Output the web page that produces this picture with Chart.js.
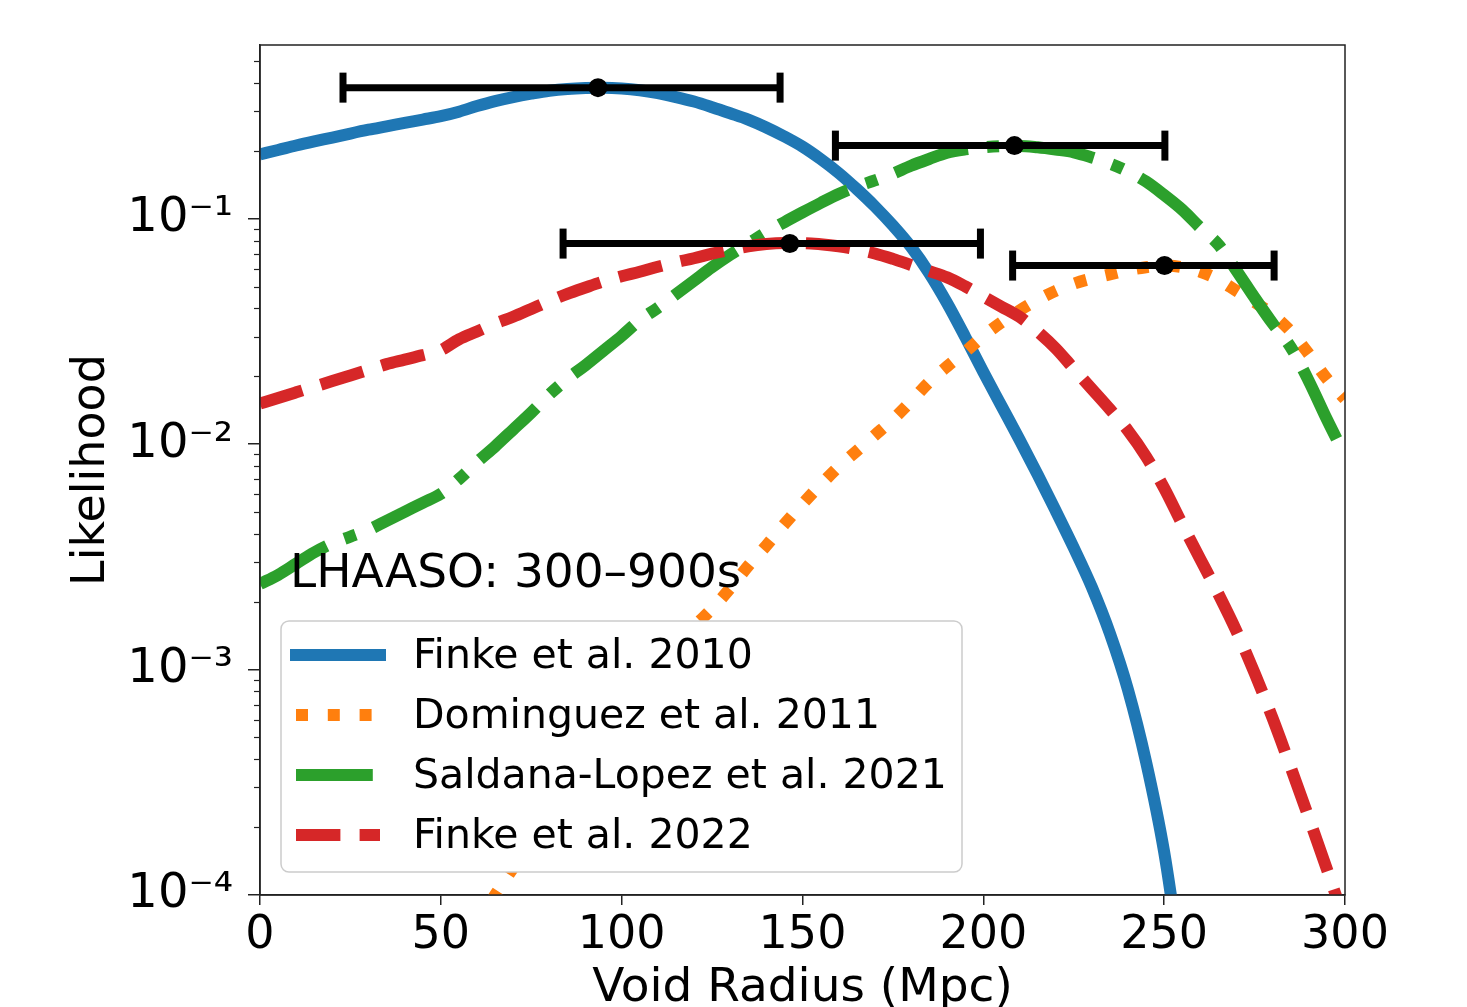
<!DOCTYPE html>
<html><head><meta charset="utf-8">
<script src="https://cdn.jsdelivr.net/npm/chart.js@4.4.1/dist/chart.umd.min.js"></script>
<style>html,body{margin:0;padding:0;background:#fff}canvas{display:block}</style>
</head><body>
<canvas id="c" width="1467" height="1007"></canvas>
<script>
// ---- data ----
const radius = [0,5,10,15,20,25,30,35,40,45,50,55,60,65,70,75,80,85,90,95,100,105,110,115,120,125,130,135,140,145,150,155,160,165,170,175,180,185,190,195,200,205,210,215,220,225,230,235,240,245,250,255,260,265,270,275,280,285,290,295,300];
const finke2010 = [0.193,0.2018,0.2113,0.2203,0.2291,0.2388,0.2483,0.2570,0.2661,0.2754,0.2851,0.2985,0.3162,0.3327,0.3467,0.3589,0.3698,0.3767,0.3802,0.3811,0.3784,0.3715,0.3606,0.3467,0.3311,0.3126,0.2938,0.2754,0.2541,0.2317,0.2089,0.1841,0.1596,0.1355,0.1135,0.0933,0.0750,0.0575,0.0422,0.0299,0.0209,0.01479,0.01047,0.00733,0.00507,0.00347,0.00232,0.001445,0.000813,0.000389,0.000155,0.0000447,null,null,null,null,null,null,null,null,null];
const dominguez2011 = [null,null,null,null,null,null,null,null,null,null,null,0.0000537,0.0000741,0.000100,0.0001318,0.0001738,0.0002291,0.0002985,0.000389,0.000501,0.000646,0.000813,0.001023,0.001259,0.001549,0.001862,0.002291,0.002884,0.003548,0.004416,0.005433,0.006607,0.007943,0.009333,0.01096,0.01288,0.01549,0.01884,0.02213,0.02570,0.03020,0.03467,0.03917,0.04365,0.04786,0.05152,0.05433,0.05662,0.05916,0.06095,0.06209,0.06095,0.05821,0.05370,0.04786,0.04266,0.03758,0.03162,0.02512,0.01950,0.01585];
const saldana2021 = [0.002399,0.002630,0.002951,0.003311,0.003631,0.003890,0.004169,0.004571,0.005012,0.005495,0.006026,0.006998,0.008318,0.009772,0.01161,0.01380,0.01660,0.01950,0.02239,0.02600,0.03020,0.03548,0.04027,0.04624,0.05309,0.06095,0.06918,0.07762,0.08710,0.09661,0.1067,0.1175,0.1288,0.1390,0.1479,0.1585,0.1718,0.1841,0.1963,0.2032,0.2075,0.2099,0.2104,0.2075,0.2028,0.1972,0.1871,0.1758,0.1622,0.1462,0.1274,0.1096,0.09120,0.07674,0.05888,0.04467,0.03428,0.02692,0.01905,0.01288,0.008913];
const finke2022 = [0.01514,0.01603,0.01698,0.01799,0.01905,0.02018,0.02138,0.02265,0.02371,0.02483,0.02612,0.02917,0.03162,0.03428,0.03673,0.03981,0.04315,0.04645,0.04955,0.05272,0.05559,0.05821,0.06124,0.06412,0.06683,0.06998,0.07278,0.07551,0.07727,0.07798,0.07798,0.07709,0.07551,0.07311,0.07015,0.06637,0.06237,0.05861,0.05495,0.05012,0.04519,0.04074,0.03673,0.03162,0.02661,0.02163,0.01758,0.01429,0.01148,0.008810,0.006383,0.004416,0.003090,0.002163,0.001479,0.000966,0.000607,0.000368,0.000220,0.000130,0.0000759];
const seriesLabels = ['Finke et al. 2010','Dominguez et al. 2011','Saldana-Lopez et al. 2021','Finke et al. 2022'];
const pointX = [93.45, 208.6, 146.5, 250.1];
const pointY = [0.3817, 0.2111, 0.0776, 0.0620];
const errLow = [22.95, 159.1, 83.8, 208.1];
const errHigh = [143.8, 250.2, 199.2, 280.4];
const xTicks = [0,50,100,150,200,250,300];
const yTickValues = [1e-4,1e-3,1e-2,1e-1];
const yTickLabels = ['10⁻⁴','10⁻³','10⁻²','10⁻¹'];
const annotationText = 'LHAASO: 300–900s';

// ---- styles ----
const FONT = "'DejaVu Sans'";
const LW = 12;
const styles = [
  {color:'#1f77b4', dash:[]},
  {color:'#ff7f0e', dash:[LW*1, LW*1.65]},
  {color:'#2ca02c', dash:[LW*6.4, LW*1.6, LW*1, LW*1.6]},
  {color:'#d62728', dash:[LW*3.7, LW*1.6]}
];
const series = [finke2010, dominguez2011, saldana2021, finke2022];

function toXY(arr){
  const out = [];
  radius.forEach((r,i)=>{ if (arr[i] !== null) out.push({x:r, y:arr[i]}); });
  return out;
}

const datasets = series.map((arr,i)=>({
  type:'line', label:seriesLabels[i], data:toXY(arr),
  borderColor:styles[i].color, borderWidth:LW, borderDash:styles[i].dash,
  borderCapStyle:'butt', borderJoinStyle:'round',
  pointRadius:0, fill:false, cubicInterpolationMode:'monotone',
  clip:0, order:4-i
}));

pointX.forEach((px,i)=>{
  datasets.push({
    type:'line', label:'_err'+i,
    data:[{x:errLow[i], y:pointY[i]},{x:errHigh[i], y:pointY[i]}],
    borderColor:'#000', borderWidth:7, borderCapStyle:'butt',
    pointStyle:'line', pointRotation:90, pointRadius:15,
    pointBorderWidth:7, pointBorderColor:'#000', pointBackgroundColor:'#000',
    tension:0, fill:false, clip:false, order:0
  });
});
datasets.push({
  type:'scatter', label:'_pts',
  data:pointX.map((x,i)=>({x, y:pointY[i]})),
  pointRadius:9.5, pointBackgroundColor:'#000', pointBorderColor:'#000', pointBorderWidth:0,
  showLine:false, clip:false, order:-1
});

const decorPlugin = {
  id:'decor',
  beforeDraw(chart){
    const c = chart.ctx;
    c.save(); c.fillStyle='#fff'; c.fillRect(0,0,chart.width,chart.height); c.restore();
  },
  afterDraw(chart){
    const c = chart.ctx, ca = chart.chartArea, ys = chart.scales.y;
    c.save();
    // frame
    c.strokeStyle='#222'; c.lineWidth=1.5; c.setLineDash([]);
    c.strokeRect(ca.left, ca.top, ca.right-ca.left, ca.bottom-ca.top);
    // minor ticks
    c.lineWidth=1.2;
    for (let d=-4; d<=-1; d++){
      for (let m=2; m<=9; m++){
        const v = m*Math.pow(10,d);
        if (v > ys.max) continue;
        const y = Math.round(ys.getPixelForValue(v))+0.5;
        c.beginPath(); c.moveTo(ca.left-6, y); c.lineTo(ca.left, y); c.stroke();
      }
    }
    // annotation
    c.fillStyle='#000'; c.font='47px '+FONT; c.textBaseline='alphabetic'; c.textAlign='left';
    c.fillText(annotationText, ca.left+30, 587);
    // legend box
    const bx = ca.left+21, by = 621, bw = 681, bh = 251, r = 8;
    c.beginPath();
    c.moveTo(bx+r,by); c.lineTo(bx+bw-r,by); c.arcTo(bx+bw,by,bx+bw,by+r,r);
    c.lineTo(bx+bw,by+bh-r); c.arcTo(bx+bw,by+bh,bx+bw-r,by+bh,r);
    c.lineTo(bx+r,by+bh); c.arcTo(bx,by+bh,bx,by+bh-r,r);
    c.lineTo(bx,by+r); c.arcTo(bx,by,bx+r,by,r); c.closePath();
    c.fillStyle='#ffffff'; c.fill();
    c.strokeStyle='#cccccc'; c.lineWidth=1.5; c.stroke();
    // legend items
    for (let i=0;i<4;i++){
      const ds = chart.data.datasets[i];
      const yRow = 655 + i*60;
      c.save();
      c.strokeStyle = ds.borderColor; c.lineWidth = ds.borderWidth;
      c.setLineDash(ds.borderDash);
      c.lineCap = ds.borderDash.length ? 'butt' : 'square';
      c.beginPath(); c.moveTo(ca.left+36, yRow); c.lineTo(ca.left+120, yRow); c.stroke();
      c.restore();
      c.fillStyle='#000'; c.font='41px '+FONT; c.textBaseline='alphabetic';
      c.fillText(ds.label, ca.left+153, yRow+13);
    }
    c.restore();
  }
};

new Chart(document.getElementById('c'), {
  type:'line',
  data:{datasets},
  plugins:[decorPlugin],
  options:{
    responsive:false, animation:false, events:[],
    layout:{padding:{left:0, top:45, right:122, bottom:0}},
    plugins:{legend:{display:false}, tooltip:{enabled:false}},
    scales:{
      x:{
        type:'linear', min:0, max:300,
        afterBuildTicks:s=>{ s.ticks = xTicks.map(v=>({value:v})); },
        afterFit:s=>{ s.height = 112; },
        ticks:{font:{family:FONT, size:46}, color:'#000', padding:3, maxRotation:0, autoSkip:false, callback:v=>String(v)},
        grid:{drawOnChartArea:false, drawTicks:true, tickLength:10, color:'#222', lineWidth:1.5},
        border:{display:true, color:'#222', width:1.5},
        title:{display:true, text:'Void Radius (Mpc)', color:'#000', font:{family:FONT, size:47, lineHeight:1.2}, padding:{top:0, bottom:-10}}
      },
      y:{
        type:'logarithmic', min:1e-4, max:0.59,
        afterBuildTicks:s=>{ s.ticks = yTickValues.map(v=>({value:v, major:true})); },
        afterFit:s=>{ s.width = 260; },
        ticks:{font:{family:FONT, size:48}, color:'#000', padding:15, autoSkip:false, callback:(v)=>{ const k = yTickValues.indexOf(v); return k>=0 ? yTickLabels[k] : ''; }},
        grid:{drawOnChartArea:false, drawTicks:true, tickLength:12, color:'#222', lineWidth:1.5},
        border:{display:true, color:'#222', width:1.5},
        title:{display:true, text:'Likelihood', color:'#000', font:{family:FONT, size:46, lineHeight:1.2}, padding:{top:64, bottom:0}}
      }
    }
  }
});
</script>
</body></html>
